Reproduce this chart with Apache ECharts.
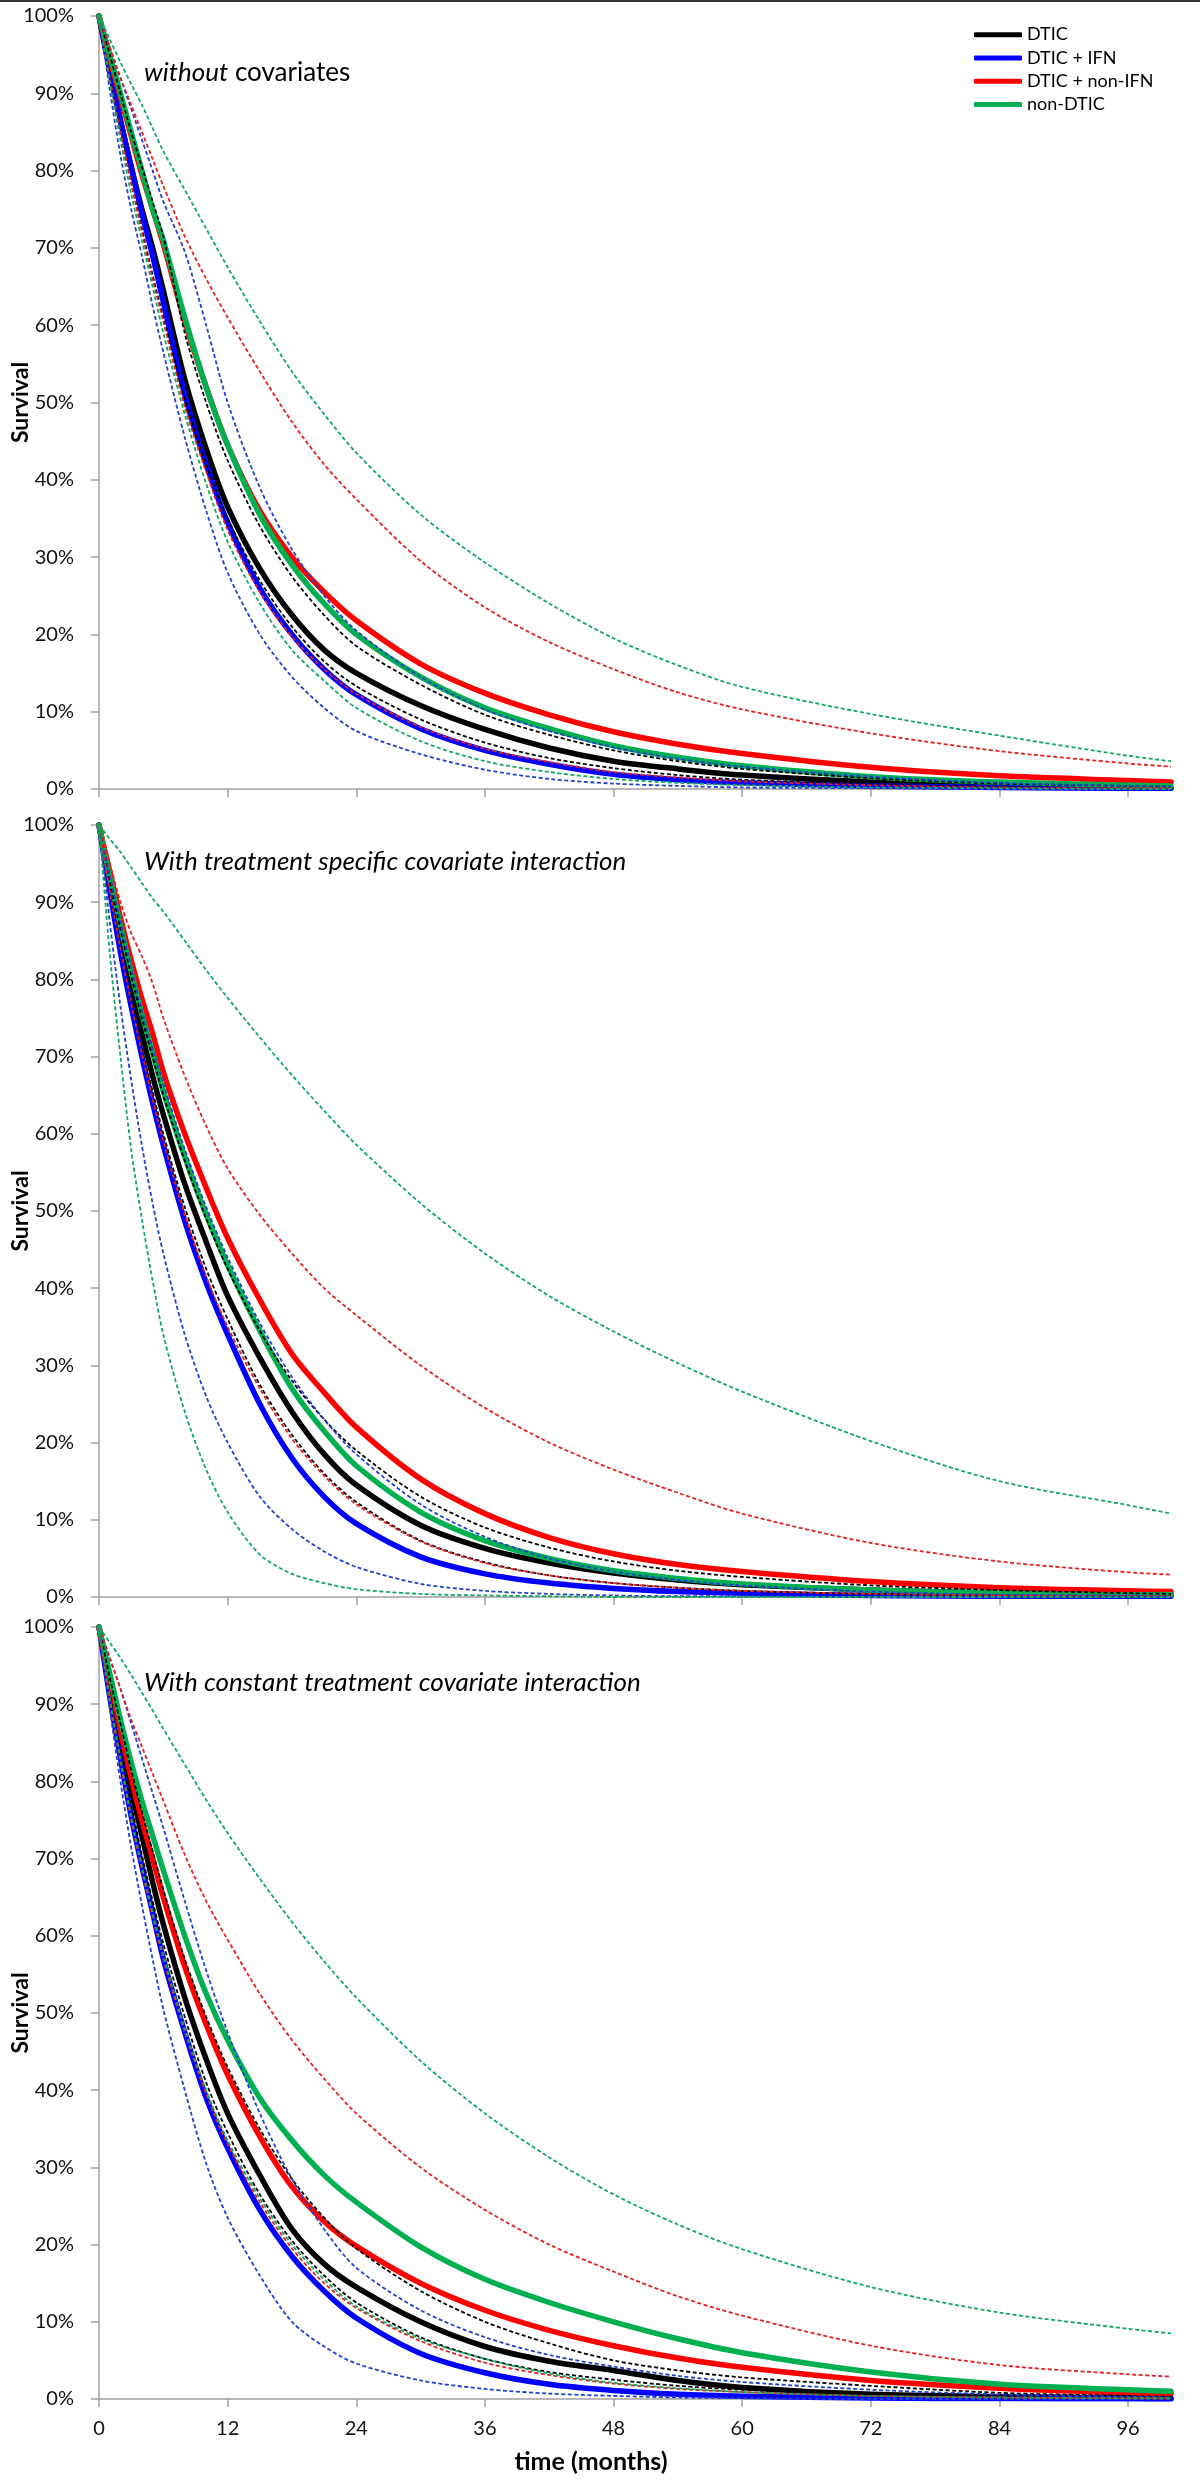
<!DOCTYPE html>
<html><head><meta charset="utf-8">
<script src="https://cdn.jsdelivr.net/npm/echarts@6/dist/echarts.min.js"></script>
<style>html,body{margin:0;padding:0;background:#fff;}#c{width:1200px;height:2483px;}</style>
</head><body><div id="c"></div>
<script>
// time grid (months)
const months = [0,1,2,3,4,5,6,8,10,12,15,18,21,24,30,36,42,48,54,60,72,84,96,100];
const xTicks = [0,12,24,36,48,60,72,84,96];
const legendNames = ['DTIC','DTIC + IFN','DTIC + non-IFN','non-DTIC'];
const panelTitles = ['without covariates','With treatment specific covariate interaction','With constant treatment covariate interaction'];
const yTitle = 'Survival';
const xTitle = 'time (months)';

// Panel 1: without covariates (survival %)
const p1_dtic      = [100,93,86.5,80.5,75,70,64.5,53,44,36.5,28.5,22.5,18,15,10.8,7.7,5.3,3.6,2.6,1.8,0.9,0.5,0.3,0.2];
const p1_dtic_lo   = [100,92,85,78.5,72.5,66.5,61,50.5,42,35,27,21,16.5,13.3,9,6,4,2.7,1.8,1.2,0.6,0.3,0.1,0.1];
const p1_dtic_hi   = [100,95,90,85,80.5,76,71.5,59,50,42.5,34,27.5,22.5,18.5,13.5,9.6,7,5,3.6,2.6,1.4,0.7,0.4,0.3];
const p1_ifn       = [100,93,86.5,80.5,74.5,69,63,51,42,34.5,26,20,15.5,12.2,7.8,5,3.2,1.9,1.2,0.8,0.4,0.2,0.1,0.1];
const p1_ifn_lo    = [100,90.5,82,75,69,62.5,56.5,45.5,36,28,20,14.5,10.5,7.5,4.5,2.5,1.3,0.7,0.4,0.2,0.1,0,0,0];
const p1_ifn_hi    = [100,96,92,88,84,80,76,69.5,60,50,39,31,25,20.5,14.5,10.3,7.5,5.4,3.9,2.9,1.6,0.8,0.4,0.3];
const p1_nonifn    = [100,94.5,89.5,84.5,79.5,75,70.5,60.5,52,44.5,36,30,25.5,21.8,16.2,12.4,9.6,7.4,5.8,4.6,2.8,1.7,1.1,0.9];
const p1_nonifn_lo = [100,92,85,78.5,72,66,60.5,49.5,41,33.5,25.5,19.7,15.5,12.3,8,5.2,3.5,2.2,1.5,1,0.5,0.2,0.1,0.1];
const p1_nonifn_hi = [100,96,92,88.5,85,81.5,78,71.5,66,61,54,47.5,42,37.5,29.5,23.5,19,15.5,12.5,10.3,7.2,4.9,3.3,2.9];
const p1_non       = [100,95,90,85,80,75,71,61,52,44.5,35.5,29,24,20,14.5,10.5,7.8,5.6,4.1,3,1.6,0.9,0.5,0.4];
const p1_non_lo    = [100,91.5,84,77,71,65,59,48.5,39.5,32,24,18,14,10.5,6.2,3.6,2.2,1.3,0.8,0.5,0.2,0.1,0,0];
const p1_non_hi    = [100,97,94,91.2,88.5,85.5,82.5,77.5,72.5,67.5,60.5,54,48.5,43.5,35.5,29.3,24,19.5,16,13.2,9.7,6.9,4.3,3.6];

// Panel 2: with treatment specific covariate interaction
const p2_dtic      = [100,92.5,85.5,79,73,67.5,62.5,53.5,46,39,31,24,18.5,14.5,9.3,6.3,4.4,3.1,2.2,1.6,0.9,0.5,0.3,0.3];
const p2_dtic_lo   = [100,92,84.5,77.5,71,65.5,60,50.5,42.5,36,27.5,21,16,12.3,7.3,4.5,2.8,1.8,1.2,0.8,0.4,0.2,0.1,0.1];
const p2_dtic_hi   = [100,93,86.5,80.5,75,70,65,56.5,49,42.5,34.5,28,23,19,13,9,6.4,4.6,3.4,2.6,1.5,0.9,0.5,0.4];
const p2_ifn       = [100,91.5,83.5,76.5,70,64,58.5,48.7,40.7,34,25,18,13,9.5,5.2,3,1.8,1.1,0.7,0.5,0.2,0.1,0.1,0.1];
const p2_ifn_lo    = [100,87.5,76.5,67,58.5,51,44.5,34,26,20,13,8.8,5.9,3.9,1.7,0.8,0.4,0.2,0.1,0.1,0,0,0,0];
const p2_ifn_hi    = [100,93.5,87.5,81.5,76,71,66.5,58,50.5,44,35.5,28.5,23,18.5,12,7.8,5,3.3,2.2,1.5,0.7,0.3,0.2,0.1];
const p2_nonifn    = [100,94,88,82.5,77.5,73,68,60,53,46.5,38.5,31.5,26.5,22,15.3,10.8,7.7,5.6,4.2,3.3,2,1.2,0.8,0.7];
const p2_nonifn_lo = [100,91.5,84,77,70.5,64.5,59,49.5,41.5,35,27,20.5,15.7,12,7.2,4.4,2.8,1.8,1.2,0.8,0.4,0.2,0.1,0.1];
const p2_nonifn_hi = [100,95,90,86,83,79.5,75,67.5,61,55.5,49.5,44.5,40,36.5,30,24.5,20,16.5,13.5,10.8,7,4.6,3.2,2.9];
const p2_non       = [100,93.2,87,81,75.5,70.5,65.5,57,49.5,43,34.5,27,21.5,17,11,7.3,5,3.4,2.4,1.7,0.9,0.5,0.3,0.3];
const p2_non_lo    = [100,83.5,70,58,49,41,34,24,16.5,11,5.5,3,1.8,1,0.4,0.2,0.1,0,0,0,0,0,0,0];
const p2_non_hi    = [100,98.2,96.5,94.5,92.5,90.5,88.8,85,81.2,77.6,72.5,67.6,63,58.6,51,44.5,39,34.4,30.3,26.6,20.2,15,11.9,10.8];

// Panel 3: with constant treatment covariate interaction
const p3_dtic      = [100,92.5,85.5,79,73,67,61.5,52,44,37,29,22,17.5,14.5,10,6.8,4.9,3.7,2.4,1.5,0.6,0.3,0.15,0.1];
const p3_dtic_lo   = [100,91.5,84,77,70.5,64.5,59,49.5,41,34.5,26.5,20.5,16,12.5,8,5.2,3.5,2.5,1.7,1.2,0.6,0.3,0.1,0.1];
const p3_dtic_hi   = [100,93.5,87.5,81.5,76,71,66,57,49.5,43,35,28.5,23.5,19.5,14,10,7.2,5,3.7,2.8,1.7,0.8,0.4,0.3];
const p3_ifn       = [100,91,83,75.5,69,63,57,47.5,39,32.5,24.5,18.5,14,10.5,5.9,3.4,1.9,1.1,0.6,0.35,0.12,0.05,0.02,0];
const p3_ifn_lo    = [100,89.5,80,71.5,64,57,50.5,40,30.5,23.5,16,10,6.8,4.6,2.4,1.3,0.7,0.4,0.2,0.1,0,0,0,0];
const p3_ifn_hi    = [100,96,92,87.5,83,78.5,74,64.5,55.5,47.5,37,28.5,22,17,11.5,8,5.7,4.2,3,2.2,1.2,0.6,0.3,0.2];
const p3_nonifn    = [100,93,86.5,80.5,75,70,65,56,48.5,42,34,27.5,23,19.8,15,11.5,8.9,6.9,5.3,4.1,2.4,1.4,0.8,0.7];
const p3_nonifn_lo = [100,90.5,82.5,75,68.5,62.5,57,47.5,39.5,33,25.5,19.5,15,11.8,7.5,4.7,3.1,2,1.3,0.9,0.4,0.2,0.1,0.1];
const p3_nonifn_hi = [100,96,92,88,84.5,81,77.5,70.5,64.5,59.5,52.5,46.5,41.5,37,30,24.5,20,16.5,13.3,10.8,6.9,4.4,3.2,2.9];
const p3_non       = [100,94,88,82.5,77.5,73,68.5,60,52.5,46.5,39,33.5,29,25.5,19.7,15.5,12.5,10,7.8,6,3.5,1.9,1.2,1];
const p3_non_lo    = [100,91,83,75.5,69,63,57.5,48,40,33.5,26,20,15.5,12,7.8,5.2,3.3,2.1,1.4,0.9,0.4,0.2,0.1,0.1];
const p3_non_hi    = [100,98,96,93.8,91.5,89.2,86.8,82.2,77.6,73.3,67.4,61.8,56.7,52,43.8,37,31.3,26.5,22.6,19.4,14.5,11.2,9.1,8.5];

const panels = [
  {dtic:[p1_dtic,p1_dtic_lo,p1_dtic_hi], ifn:[p1_ifn,p1_ifn_lo,p1_ifn_hi], nonifn:[p1_nonifn,p1_nonifn_lo,p1_nonifn_hi], non:[p1_non,p1_non_lo,p1_non_hi]},
  {dtic:[p2_dtic,p2_dtic_lo,p2_dtic_hi], ifn:[p2_ifn,p2_ifn_lo,p2_ifn_hi], nonifn:[p2_nonifn,p2_nonifn_lo,p2_nonifn_hi], non:[p2_non,p2_non_lo,p2_non_hi]},
  {dtic:[p3_dtic,p3_dtic_lo,p3_dtic_hi], ifn:[p3_ifn,p3_ifn_lo,p3_ifn_hi], nonifn:[p3_nonifn,p3_nonifn_lo,p3_nonifn_hi], non:[p3_non,p3_non_lo,p3_non_hi]}
];
const groups = [
  {key:'dtic', name:'DTIC', color:'#000000', dash:'#000000'},
  {key:'ifn', name:'DTIC + IFN', color:'#0000FF', dash:'#2040D0'},
  {key:'nonifn', name:'DTIC + non-IFN', color:'#FF0000', dash:'#E52020'},
  {key:'non', name:'non-DTIC', color:'#00B050', dash:'#10A860'}
];

const FONT = 'Lato';
const gridTops = [16, 825, 1627];
const gridH = [773, 772, 772];

const grids = gridTops.map((t,i)=>({left:99, top:t, width:1072, height:gridH[i], containLabel:false, outerBoundsMode:'none'}));
const axisColor = '#A0A0A0';
const xAxes = gridTops.map((t,i)=>({
  type:'value', gridIndex:i, min:0, max:100,
  axisLine:{show:true, onZero:false, lineStyle:{color:axisColor, width:1.5}},
  axisTick:{show:true, length:8, inside:false, customValues:xTicks, lineStyle:{color:axisColor, width:1.5}},
  axisLabel:{show:i===2, customValues:xTicks, margin:20, fontFamily:FONT, fontSize:20, color:'#111'},
  splitLine:{show:false}
}));
const yAxes = gridTops.map((t,i)=>({
  type:'value', gridIndex:i, min:0, max:100, interval:10,
  axisLine:{show:true, lineStyle:{color:axisColor, width:1.5}},
  axisTick:{show:true, length:8, inside:false, lineStyle:{color:axisColor, width:1.5}},
  axisLabel:{formatter:'{value}%', margin:25, fontFamily:FONT, fontSize:20, color:'#111'},
  splitLine:{show:false}
}));

const series = [];
panels.forEach((p, pi) => {
  groups.forEach(g => {
    series.push({
      type:'line', name:g.name, xAxisIndex:pi, yAxisIndex:pi,
      data: months.map((m,k)=>[m, p[g.key][0][k]]),
      showSymbol:false, symbol:'none', smooth:0.3, z:2,
      itemStyle:{color:g.color},
      lineStyle:{color:g.color, width:5.5, cap:'round', join:'round'},
      emphasis:{disabled:true}
    });
  });
  groups.forEach(g => {
    [1,2].forEach(b => {
      series.push({
        type:'line', name:g.name + (b===1?' lower':' upper'), xAxisIndex:pi, yAxisIndex:pi,
        data: months.map((m,k)=>[m, p[g.key][b][k]]),
        showSymbol:false, symbol:'none', smooth:0.3, z:3,
        itemStyle:{color:g.dash},
        lineStyle:{color:g.dash, width:1.8, type:[4,2.5]},
        emphasis:{disabled:true}
      });
    });
  });
});

const titleY = [73, 862, 1683];
const TS = 26;
const graphic = [
  {type:'rect', left:0, top:0, shape:{width:1200, height:2}, style:{fill:'#333'}},
  {type:'text', x:144, y:titleY[0], style:{text:'{i|without} covariates', fontFamily:FONT, fontSize:TS, fill:'#000', verticalAlign:'middle',
     rich:{i:{fontStyle:'italic', fontFamily:FONT, fontSize:TS, fill:'#000'}}}},
  {type:'text', x:144, y:titleY[1], style:{text:panelTitles[1], fontFamily:FONT, fontStyle:'italic', fontSize:TS, fill:'#000', verticalAlign:'middle'}},
  {type:'text', x:144, y:titleY[2], style:{text:panelTitles[2], fontFamily:FONT, fontStyle:'italic', fontSize:TS, fill:'#000', verticalAlign:'middle'}},
  {type:'text', x:591, y:2462, style:{text:xTitle, fontFamily:FONT, fontWeight:'bold', fontSize:25, fill:'#000', align:'center', verticalAlign:'middle'}}
];
gridTops.forEach((t,i)=>{
  graphic.push({type:'text', x:21, y:t + gridH[i]/2, rotation:Math.PI/2,
    style:{text:yTitle, fontFamily:FONT, fontWeight:'bold', fontSize:23, fill:'#000', align:'center', verticalAlign:'middle'}});
});

const chart = echarts.init(document.getElementById('c'), null, {renderer:'canvas'});
chart.setOption({
  animation:false,
  backgroundColor:'#ffffff',
  grid:grids, xAxis:xAxes, yAxis:yAxes, series:series,
  legend:{
    data:legendNames, orient:'vertical', left:974, top:23, padding:0,
    itemWidth:48, itemHeight:5, itemGap:0, icon:'roundRect',
    textStyle:{fontFamily:FONT, fontSize:18, color:'#000', lineHeight:23.3},
    selectedMode:false
  },
  graphic:graphic
});
</script>
</body></html>
